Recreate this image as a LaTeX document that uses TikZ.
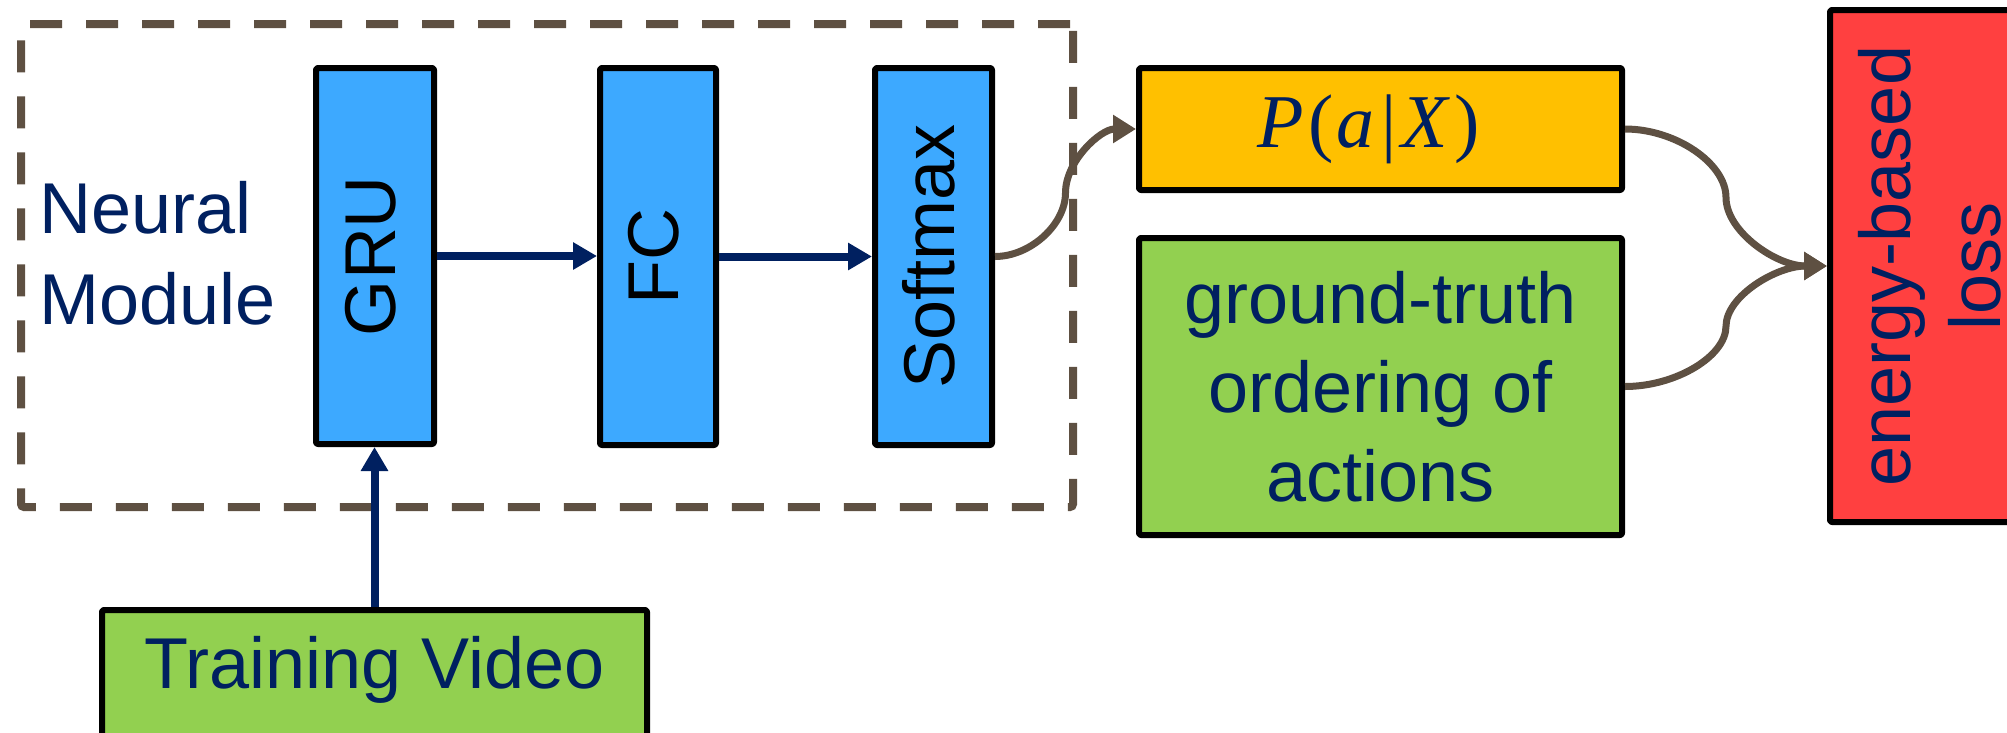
\documentclass[tikz,border=0pt]{standalone}
\usepackage{fontspec}
\setmainfont{Liberation Sans}
\newfontfamily\formulafont{Liberation Serif}
\usepackage{graphicx}
\usetikzlibrary{arrows.meta,calc}

\definecolor{navy}{HTML}{002060}
\definecolor{linkbrown}{HTML}{5E5042}
\definecolor{layerblue}{HTML}{3DA9FF}
\definecolor{probgold}{HTML}{FFC000}
\definecolor{datagreen}{HTML}{92D050}
\definecolor{lossred}{HTML}{FF4040}

% upright text turned to read bottom to top, a little to the left of centre
\newcommand{\sidelabel}[1]{\rotatebox{90}{#1\rule[-10pt]{0pt}{0pt}}}
% the conditional probability, set in a serif italic like a formula
\newcommand{\condprob}{{\formulafont\fontsize{76}{90}\selectfont
  \textit{P}\kern5pt(\kern2pt\textit{a}\kern7pt|\kern5pt\textit{X}\kern4pt)}}

\tikzset{
  big/.style={font=\fontsize{72}{90}\selectfont},
  block/.style={draw=black, line width=6pt, rounded corners=2pt, line join=round, inner sep=0pt, big},
  navyarrow/.style={draw=navy, line width=8pt, -{Triangle[length=24pt,width=26pt]}},
  linkarrow/.style={draw=linkbrown, line width=7pt, -{Triangle[length=23pt,width=27pt]}},
  % S-shaped connector: leaves and arrives horizontally, vertical at the midpoint
  sconn/.style={to path={let \p1=(\tikztostart), \p2=(\tikztotarget) in
     .. controls ({(3*\x1+\x2)/4},\y1) and ({(\x1+\x2)/2},{(3*\y1+\y2)/4})
     .. ({(\x1+\x2)/2},{(\y1+\y2)/2})
     .. controls ({(\x1+\x2)/2},{(\y1+3*\y2)/4}) and ({(\x1+3*\x2)/4},\y2)
     .. (\tikztotarget)}},
}

\begin{document}
\begin{tikzpicture}[x=1pt,y=-1pt]
\useasboundingbox (0,0) rectangle (2007,732);
\clip (0,0) rectangle (2007,732);

% neural module frame
\node[draw=linkbrown, line width=8pt, dash pattern=on 32pt off 24pt, rounded corners=3pt,
      minimum width=1052pt, minimum height=483pt, inner sep=0pt] (module) at (547,265.5) {};
\node[anchor=north west, inner sep=0pt, align=left, text=navy,
      font=\fontsize{72}{91}\selectfont] (modlabel) at (39.5,181.5) {Neural\\Module};

% layers
\node[block, fill=layerblue, minimum width=118pt, minimum height=376pt] (gru) at (375,256) {\sidelabel{GRU}};
\node[block, fill=layerblue, minimum width=116pt, minimum height=377pt] (fc) at (658,256.5) {\sidelabel{FC}};
\node[block, fill=layerblue, minimum width=117pt, minimum height=377pt] (soft) at (933.5,256.5) {\sidelabel{Softmax}};

% input
\node[block, fill=datagreen, text=navy, minimum width=545pt, minimum height=170pt,
      text height=52pt, text depth=66pt] (video) at (374.5,695) {Training Video};

% outputs and loss
\node[block, fill=probgold, text=navy, minimum width=483pt, minimum height=122pt] (pax) at (1380.5,129) {\condprob\kern24pt};
\node[block, fill=datagreen, text=navy, minimum width=483pt, minimum height=297pt, align=center,
      font=\fontsize{72}{89}\selectfont] (gt) at (1380.5,386.5) {ground-truth\\ordering of\\actions};
\node[block, fill=lossred, text=navy, minimum width=214pt, minimum height=512pt] (loss) at (1937,266)
      {\rotatebox{90}{\begin{tabular}{@{}c@{}}energy-based\\loss\end{tabular}}};

% connectors
\draw[navyarrow] (gru.east) -- (gru.east -| fc.west);
\draw[navyarrow] (fc.east) -- (fc.east -| soft.west);
\draw[navyarrow] (video.north) -- (video.north |- gru.south);
\draw[linkarrow] (soft.east) to[sconn] (pax.west);
\draw[linkarrow] (pax.east) to[sconn] (loss.west);
\draw[linkarrow] (gt.east) to[sconn] (loss.west);
\end{tikzpicture}
\end{document}
